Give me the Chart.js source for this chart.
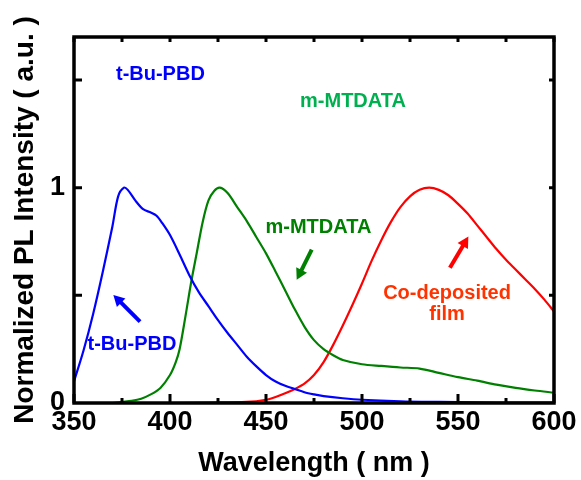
<!DOCTYPE html>
<html>
<head>
<meta charset="utf-8">
<script src="https://cdn.jsdelivr.net/npm/chart.js@4.4.0/dist/chart.umd.min.js"></script>
<style>
  html, body { margin: 0; padding: 0; background: #fff; }
</style>
</head>
<body>
<canvas id="plChart" width="581" height="480"></canvas>
<script>
// spectra (wavelength in nm, normalized PL)
const tbuWl = [350, 355, 360, 365, 370, 373, 376, 378, 382, 386, 390, 393, 396, 400, 405, 410, 415, 420, 425, 430, 435, 440, 445, 450, 455, 460, 465, 470, 475, 480, 490, 500, 520, 540, 560, 580, 600];
const tbuPl = [0.10, 0.245, 0.415, 0.61, 0.82, 0.96, 1.00, 0.99, 0.94, 0.90, 0.885, 0.87, 0.835, 0.78, 0.69, 0.595, 0.515, 0.45, 0.385, 0.325, 0.27, 0.215, 0.17, 0.13, 0.10, 0.08, 0.065, 0.05, 0.04, 0.032, 0.022, 0.015, 0.008, 0.005, 0.003, 0.002, 0.002];

const mtdataWl = [350, 370, 375, 380, 385, 390, 395, 400, 403, 405, 408, 411, 414, 417, 420, 423, 426, 430, 435, 440, 445, 450, 455, 460, 465, 470, 475, 480, 485, 490, 500, 510, 520, 530, 540, 550, 560, 570, 580, 590, 600];
const mtdataPl = [0.0, 0.0, 0.005, 0.01, 0.02, 0.04, 0.07, 0.13, 0.19, 0.25, 0.40, 0.56, 0.70, 0.84, 0.94, 0.985, 1.00, 0.975, 0.91, 0.845, 0.77, 0.695, 0.61, 0.523, 0.435, 0.355, 0.292, 0.25, 0.222, 0.20, 0.18, 0.172, 0.165, 0.16, 0.14, 0.12, 0.104, 0.085, 0.07, 0.058, 0.048];

const coWl = [350, 400, 420, 440, 450, 455, 460, 465, 470, 475, 480, 485, 490, 495, 500, 505, 510, 515, 520, 525, 530, 535, 540, 545, 550, 555, 560, 565, 570, 575, 580, 585, 590, 595, 600];
const coPl = [0.0, 0.0, 0.002, 0.005, 0.015, 0.028, 0.045, 0.065, 0.09, 0.13, 0.19, 0.27, 0.36, 0.455, 0.555, 0.66, 0.755, 0.84, 0.91, 0.96, 0.99, 1.00, 0.99, 0.965, 0.925, 0.88, 0.825, 0.77, 0.715, 0.665, 0.62, 0.575, 0.53, 0.48, 0.425];

const xTickLabels = [350, 400, 450, 500, 550, 600];
const xMinorTicks = [375, 425, 475, 525, 575];
const yTickLabels = [0, 1];
const yMarkTicks = [0.5, 1, 1.5];

// labels and arrows, in data units
const notes = [
  { text: 't-Bu-PBD', x: 395, y: 1.525, color: '#0000ff' },
  { text: 'm-MTDATA', x: 495.3, y: 1.40, color: '#00b050' },
  { text: 'm-MTDATA', x: 477.3, y: 0.816, color: '#008000' },
  { text: 't-Bu-PBD', x: 380.2, y: 0.27, color: '#0000ff' },
  { text: 'Co-deposited', x: 544.3, y: 0.508, color: '#ff3300' },
  { text: 'film', x: 544.3, y: 0.41, color: '#ff3300' }
];
const arrows = [
  { from: [384.4, 0.378], to: [370.5, 0.502], color: '#0000ff' },
  { from: [473.8, 0.712], to: [466.0, 0.572], color: '#008000' },
  { from: [545.8, 0.628], to: [555.4, 0.773], color: '#ff0000' }
];

const fontFam = "'Liberation Sans', Arial, sans-serif";

function pts(xs, ys) {
  return xs.map((v, i) => ({ x: v, y: ys[i] }));
}

// frame, inward ticks, annotations
const framePlugin = {
  id: 'frame',
  afterDatasetsDraw(chart) {
    const ctx = chart.ctx;
    const a = chart.chartArea;
    const sx = chart.scales.x, sy = chart.scales.y;
    ctx.save();
    ctx.strokeStyle = '#000';
    ctx.lineWidth = 3.5;
    ctx.strokeRect(a.left, a.top, a.right - a.left, a.bottom - a.top);

    ctx.lineWidth = 3;
    ctx.beginPath();
    xTickLabels.forEach(v => {
      const px = sx.getPixelForValue(v);
      ctx.moveTo(px, a.bottom); ctx.lineTo(px, a.bottom - 9);
      ctx.moveTo(px, a.top); ctx.lineTo(px, a.top + 5);
    });
    xMinorTicks.forEach(v => {
      const px = sx.getPixelForValue(v);
      ctx.moveTo(px, a.bottom); ctx.lineTo(px, a.bottom - 5);
      ctx.moveTo(px, a.top); ctx.lineTo(px, a.top + 5);
    });
    yMarkTicks.forEach(v => {
      const py = sy.getPixelForValue(v);
      ctx.moveTo(a.left, py); ctx.lineTo(a.left + 8, py);
      ctx.moveTo(a.right, py); ctx.lineTo(a.right - 5, py);
    });
    ctx.stroke();

    ctx.font = 'bold 20px ' + fontFam;
    ctx.textAlign = 'center';
    ctx.textBaseline = 'middle';
    notes.forEach(n => {
      ctx.fillStyle = n.color;
      ctx.fillText(n.text, sx.getPixelForValue(n.x), sy.getPixelForValue(n.y));
    });

    arrows.forEach(ar => {
      const x1 = sx.getPixelForValue(ar.from[0]), y1 = sy.getPixelForValue(ar.from[1]);
      const x2 = sx.getPixelForValue(ar.to[0]), y2 = sy.getPixelForValue(ar.to[1]);
      const ang = Math.atan2(y2 - y1, x2 - x1);
      const head = 11;
      ctx.strokeStyle = ar.color;
      ctx.fillStyle = ar.color;
      ctx.lineWidth = 4;
      ctx.beginPath();
      ctx.moveTo(x1, y1);
      ctx.lineTo(x2 - head * 0.8 * Math.cos(ang), y2 - head * 0.8 * Math.sin(ang));
      ctx.stroke();
      ctx.beginPath();
      ctx.moveTo(x2, y2);
      ctx.lineTo(x2 - head * Math.cos(ang) + 6 * Math.sin(ang), y2 - head * Math.sin(ang) - 6 * Math.cos(ang));
      ctx.lineTo(x2 - head * Math.cos(ang) - 6 * Math.sin(ang), y2 - head * Math.sin(ang) + 6 * Math.cos(ang));
      ctx.closePath();
      ctx.fill();
    });
    ctx.restore();
  }
};

const ctx = document.getElementById('plChart').getContext('2d');

const plChart = new Chart(ctx, {
  type: 'line',
  data: {
    datasets: [
      { label: 't-Bu-PBD', data: pts(tbuWl, tbuPl), borderColor: '#0000ff' },
      { label: 'm-MTDATA', data: pts(mtdataWl, mtdataPl), borderColor: '#008000' },
      { label: 'Co-deposited film', data: pts(coWl, coPl), borderColor: '#ff0000' }
    ]
  },
  options: {
    responsive: false,
    animation: false,
    devicePixelRatio: 1,
    layout: { padding: { top: 37, right: 27, left: 0, bottom: 0 } },
    elements: {
      line: { borderWidth: 2.2, tension: 0.3, fill: false },
      point: { radius: 0 }
    },
    plugins: {
      legend: { display: false },
      tooltip: { enabled: false }
    },
    scales: {
      x: {
        type: 'linear',
        min: 350,
        max: 600,
        afterBuildTicks: s => { s.ticks = xTickLabels.map(v => ({ value: v })); },
        afterFit: s => { s.height = 77; },
        grid: { display: false, drawTicks: false },
        border: { display: false },
        ticks: {
          autoSkip: false,
          maxRotation: 0,
          padding: 3,
          color: '#000',
          font: { family: fontFam, size: 27, weight: 'bold' }
        },
        title: {
          display: true,
          text: 'Wavelength ( nm )',
          color: '#000',
          padding: { top: 0, bottom: 0 },
          font: { family: fontFam, size: 27, weight: 'bold' }
        }
      },
      y: {
        min: 0,
        max: 1.7,
        afterBuildTicks: s => { s.ticks = yTickLabels.map(v => ({ value: v })); },
        afterFit: s => { s.width = 74; },
        grid: { display: false, drawTicks: false },
        border: { display: false },
        ticks: {
          padding: 9,
          color: '#000',
          font: { family: fontFam, size: 27, weight: 'bold' }
        },
        title: {
          display: true,
          text: 'Normalized PL Intensity ( a.u. )',
          color: '#000',
          padding: { top: 8, bottom: 0 },
          font: { family: fontFam, size: 28, weight: 'bold' }
        }
      }
    }
  },
  plugins: [framePlugin]
});
</script>
</body>
</html>
